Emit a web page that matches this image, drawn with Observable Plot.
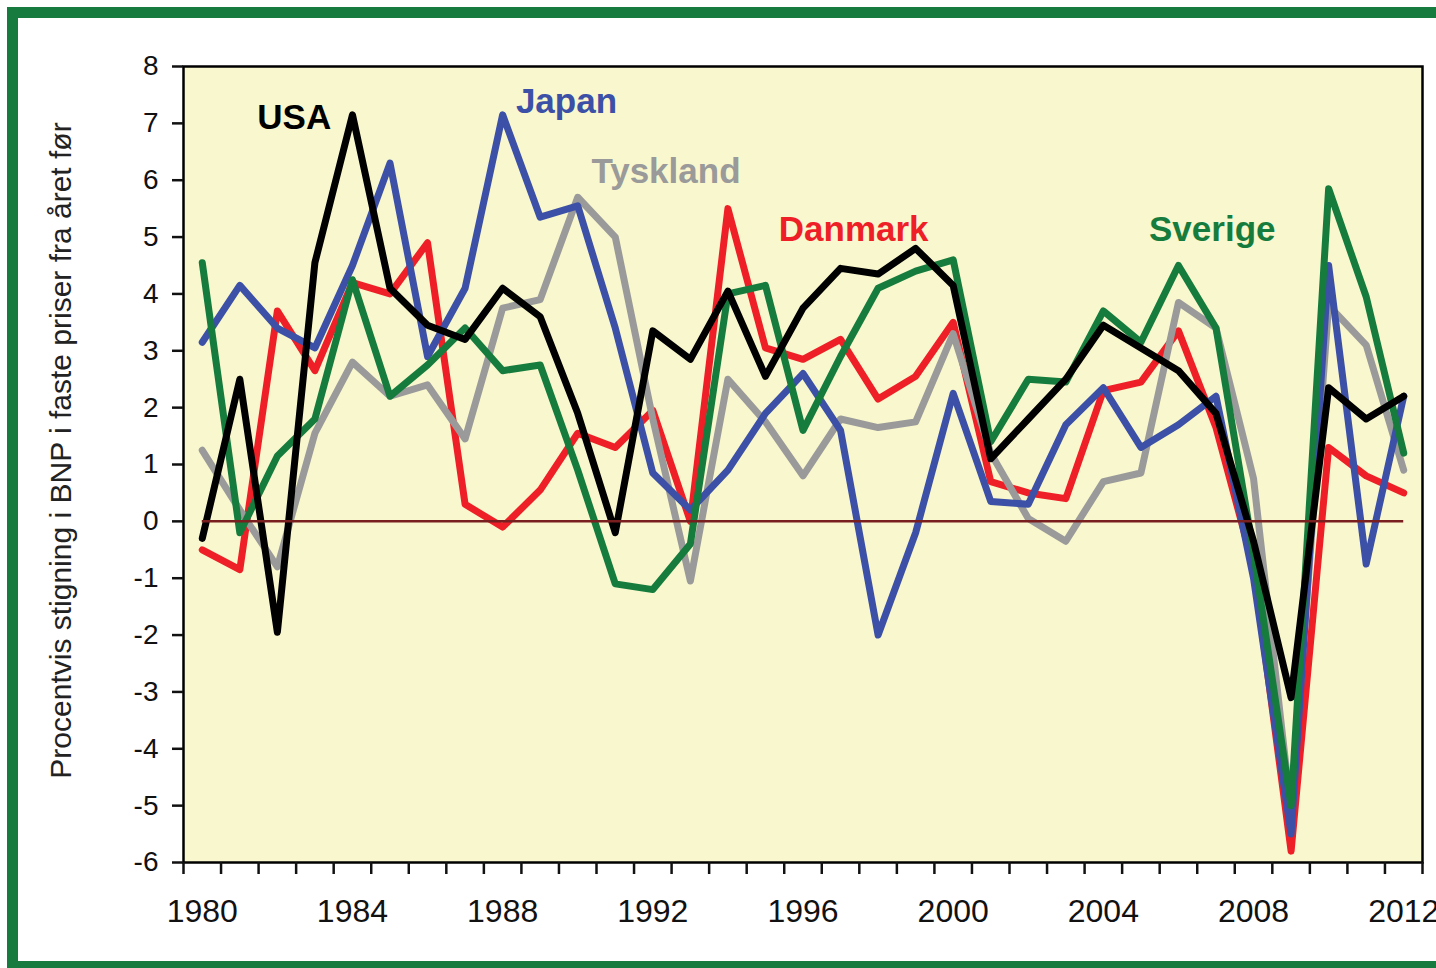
<!DOCTYPE html>
<html><head><meta charset="utf-8">
<script src="https://cdn.jsdelivr.net/npm/d3@7"></script>
<script src="https://cdn.jsdelivr.net/npm/@observablehq/plot@0.6"></script>
<style>
html,body{margin:0;padding:0;background:#fff;overflow:hidden;}
#wrap{position:relative;width:1436px;height:968px;}
#chart{position:absolute;left:0;top:0;}
#border{position:absolute;left:7px;top:7px;width:1460px;height:965px;box-sizing:border-box;border:11px solid #177a3e;pointer-events:none;}
</style></head><body><div id="wrap"><div id="chart"></div><div id="border"></div></div>
<script>
const years = d3.range(1980, 2013);
const usa = [-0.3, 2.5, -1.95, 4.55, 7.15, 4.1, 3.45, 3.2, 4.1, 3.6, 1.9, -0.2, 3.35, 2.85, 4.05, 2.55, 3.75, 4.45, 4.35, 4.8, 4.15, 1.1, 1.8, 2.5, 3.45, 3.05, 2.65, 1.9, -0.35, -3.1, 2.35, 1.8, 2.2];
const japan = [3.15, 4.15, 3.4, 3.05, 4.5, 6.3, 2.9, 4.1, 7.15, 5.35, 5.55, 3.4, 0.85, 0.2, 0.9, 1.9, 2.6, 1.6, -2.0, -0.2, 2.25, 0.35, 0.3, 1.7, 2.35, 1.3, 1.7, 2.2, -1.0, -5.5, 4.5, -0.75, 2.2];
const tyskland = [1.25, 0.2, -0.8, 1.55, 2.8, 2.2, 2.4, 1.45, 3.75, 3.9, 5.7, 5.0, 1.8, -1.05, 2.5, 1.75, 0.8, 1.8, 1.65, 1.75, 3.3, 1.2, 0.05, -0.35, 0.7, 0.85, 3.85, 3.4, 0.75, -5.1, 3.8, 3.1, 0.9];
const danmark = [-0.5, -0.85, 3.7, 2.65, 4.2, 4.0, 4.9, 0.3, -0.1, 0.55, 1.55, 1.3, 1.95, 0.0, 5.5, 3.05, 2.85, 3.2, 2.15, 2.55, 3.5, 0.7, 0.5, 0.4, 2.3, 2.45, 3.35, 1.65, -0.8, -5.8, 1.3, 0.8, 0.5];
const sverige = [4.55, -0.2, 1.15, 1.8, 4.25, 2.2, 2.75, 3.4, 2.65, 2.75, 0.9, -1.1, -1.2, -0.4, 4.0, 4.15, 1.6, 2.9, 4.1, 4.4, 4.6, 1.4, 2.5, 2.45, 3.7, 3.15, 4.5, 3.4, -0.55, -5.0, 5.85, 3.95, 1.2];

const countries = ["Danmark", "Tyskland", "Japan", "Sverige", "USA"];
const countryValues = [danmark, tyskland, japan, sverige, usa];
const countryColors = ["#ee1f26", "#9a9a9a", "#3b50a6", "#167c3d", "#000000"];

const labelNames = ["USA", "Japan", "Tyskland", "Danmark", "Sverige"];
const labelYears = [1982.45, 1989.7, 1992.35, 1997.35, 2006.9];
const labelValues = [7.1, 7.38, 6.15, 5.13, 5.13];

const yTicks = [-6, -5, -4, -3, -2, -1, 0, 1, 2, 3, 4, 5, 6, 7, 8];
const xTickLabels = [1980, 1984, 1988, 1992, 1996, 2000, 2004, 2008, 2012];
const yTitle = "Procentvis stigning i BNP i faste priser fra året før";

const rows = [];
countries.forEach((c, i) => years.forEach((yr, j) => rows.push({country: c, year: yr, value: countryValues[i][j]})));
const labels = labelNames.map((n, i) => ({name: n, x: labelYears[i], y: labelValues[i]}));
const boundaryTicks = years.map(y => y - 0.5).concat([years[years.length - 1] + 0.5]);

const chart = Plot.plot({
  width: 1436, height: 968,
  marginLeft: 183, marginRight: 14, marginTop: 66, marginBottom: 106,
  style: {fontFamily: "'Liberation Sans', Arial, sans-serif", background: "transparent", color: "#111"},
  x: {domain: [years[0] - 0.5, years[years.length - 1] + 0.5]},
  y: {domain: [-6, 8]},
  color: {domain: countries, range: countryColors},
  marks: [
    Plot.frame({fill: "#f9f7cd"}),
    Plot.line(rows, {x: "year", y: "value", z: "country", stroke: "country", strokeWidth: 7, strokeLinejoin: "round", strokeLinecap: "round"}),
    Plot.ruleY([0], {x1: years[0], x2: years[years.length - 1], stroke: "#7a1f1f", strokeWidth: 2.5}),
    Plot.text(labels, {x: "x", y: "y", text: "name", fill: "name", fontWeight: "bold", fontSize: 35}),
    Plot.frame({stroke: "#000", strokeWidth: 2.5}),
    Plot.axisY({ticks: yTicks, tickSize: 11, tickPadding: 14, fontSize: 28, strokeWidth: 2.5, label: null, tickFormat: d => String(d)}),
    Plot.axisX({ticks: boundaryTicks, tickSize: 12, strokeWidth: 2.5, tickFormat: () => "", label: null}),
    Plot.axisX({ticks: xTickLabels, tickSize: 0, tickPadding: 37, fontSize: 32, label: null, tickFormat: d => String(d)}),
    Plot.text([yTitle], {frameAnchor: "left", rotate: -90, dx: -122, dy: -14, fontSize: 30, fill: "#222", textAnchor: "middle"})
  ]
});
document.getElementById("chart").appendChild(chart);
</script></body></html>
